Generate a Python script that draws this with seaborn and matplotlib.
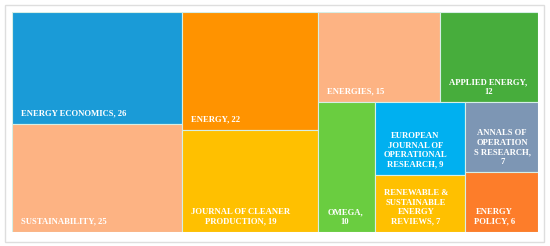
import matplotlib
matplotlib.use("Agg")
import matplotlib.pyplot as plt
from matplotlib.patches import Rectangle
import seaborn as sns

# ---- data ----
journals = ["ENERGY ECONOMICS", "SUSTAINABILITY", "ENERGY",
            "JOURNAL OF CLEANER\nPRODUCTION", "ENERGIES", "APPLIED ENERGY",
            "OMEGA", "EUROPEAN\nJOURNAL OF\nOPERATIONAL\nRESEARCH",
            "RENEWABLE &\nSUSTAINABLE\nENERGY\nREVIEWS",
            "ANNALS OF\nOPERATION\nS RESEARCH", "ENERGY\nPOLICY"]
counts = [26, 25, 22, 19, 15, 12, 10, 9, 7, 7, 6]
value_on_new_line = [False, False, False, False, False, True, True,
                     False, False, True, False]
colors = ["#1a9bd7", "#fdb383", "#ff9300", "#ffc000", "#fdb383", "#47ad3c",
          "#6acd40", "#00b0f0", "#ffc000", "#7d96b4", "#fd7d2a"]
# nesting of the treemap (indices into the arrays above)
layout_tree = [[0, 1], [2, 3], [[4, 5], [6, [7, 8], [9, 10]]]]


def node_sum(node):
    if isinstance(node, int):
        return counts[node]
    return sum(node_sum(c) for c in node)


def slice_dice(node, x, y, w, h, horizontal, out):
    if isinstance(node, int):
        out[node] = (x, y, w, h)
        return
    total = node_sum(node)
    if horizontal:
        cx = x
        for c in node:
            cw = w * node_sum(c) / total
            slice_dice(c, cx, y, cw, h, not horizontal, out)
            cx += cw
    else:
        cy = y + h  # top to bottom
        for c in node:
            ch = h * node_sum(c) / total
            cy -= ch
            slice_dice(c, x, cy, w, ch, not horizontal, out)


sns.set_theme(style="white")
plt.rcParams['font.family'] = ['Liberation Serif', 'DejaVu Serif']

W, H = 550, 246
fig = plt.figure(figsize=(W / 100, H / 100), dpi=100)
fig.patch.set_facecolor("white")

# outer card frame
fig.add_artist(Rectangle((5 / W, 4 / H), 539 / W, 237 / H, transform=fig.transFigure,
                         facecolor="white", edgecolor="#dedede", lw=1.0, zorder=0))

ax = fig.add_axes([12 / W, 14 / H, 526 / W, 220 / H])
ax.set_xlim(0, 1)
ax.set_ylim(0, 1)
ax.axis("off")

rects = {}
slice_dice(layout_tree, 0, 0, 1, 1, True, rects)

for i, (name, v) in enumerate(zip(journals, counts)):
    x, y, w, h = rects[i]
    ax.add_patch(Rectangle((x, y), w, h, facecolor=colors[i],
                           edgecolor="#d6efe6", lw=0.8))
    sep = ",\n" if value_on_new_line[i] else ", "
    label = f"{name}{sep}{v}"
    ax.annotate(label, xy=(x, y), xytext=(6.5, 4.6), textcoords="offset points",
                ha="left", va="bottom", multialignment="center",
                color="white", fontsize=6.2, fontweight="bold", linespacing=1.25)

fig.savefig("out.png", dpi=100, facecolor="white")
